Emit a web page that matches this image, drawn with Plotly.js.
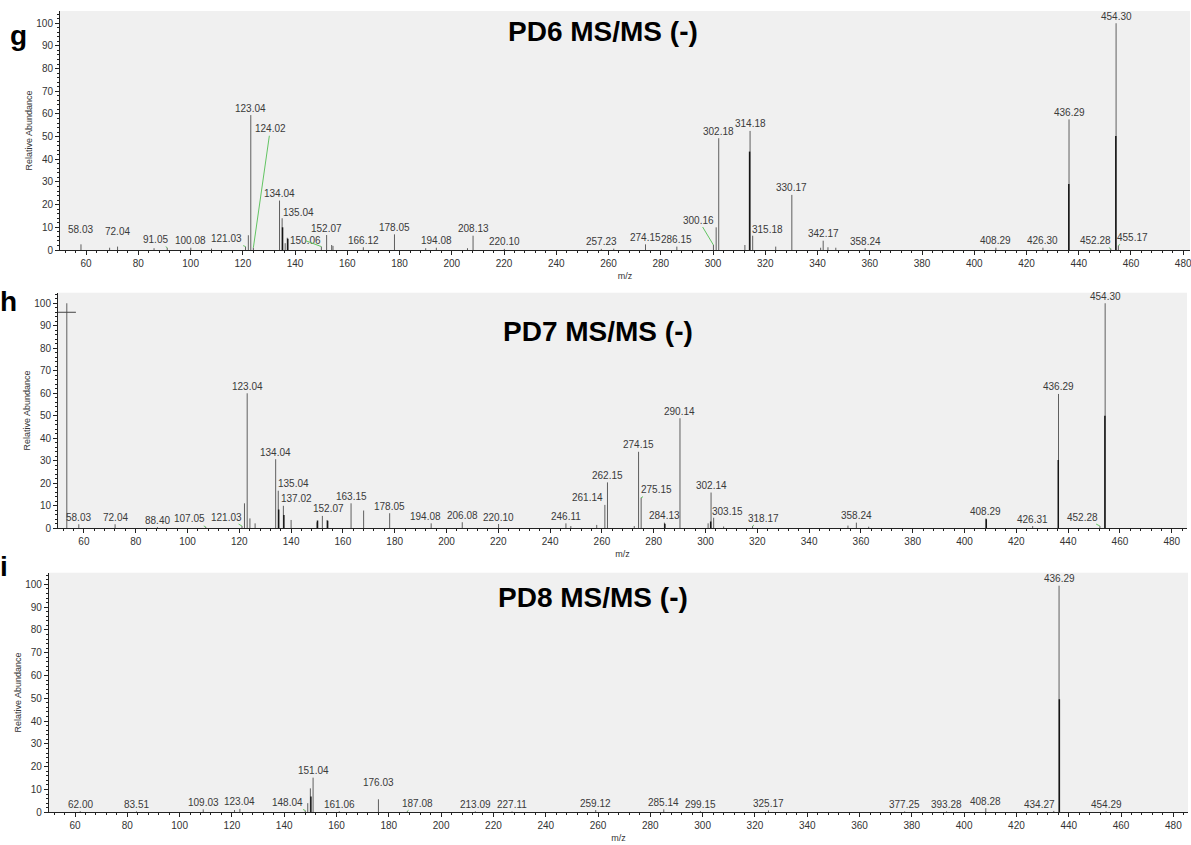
<!DOCTYPE html>
<html>
<head>
<meta charset="utf-8">
<script src="https://cdn.plot.ly/plotly-3.0.1.min.js"></script>
<style>html,body{margin:0;padding:0;background:#fff;}#chart{width:1191px;height:845px;}</style>
</head>
<body>
<div id="chart"></div>
<script>
// ---------------- DATA ----------------
// PD6 MS/MS (-)
const pd6Mz  = [58.03, 69.0, 72.04, 86.0, 91.05, 100.08, 108.0, 121.03, 122.1, 123.04, 124.02, 134.04, 135.04, 136.2, 137.0, 150.06, 152.07, 154.0, 154.5, 166.12, 178.05, 190.0, 194.08, 206.0, 208.13, 220.10, 257.23, 262.0, 274.15, 286.15, 300.16, 301.2, 302.18, 312.2, 314.18, 315.18, 324.0, 330.17, 341.2, 342.17, 344.0, 347.0, 358.24, 408.29, 426.30, 436.29, 452.28, 454.30, 455.17];
const pd6Int = [2.5, 1.0, 1.5, 0.8, 1.0, 1.0, 0.6, 1.5, 6.5, 59.5, 1.0, 21.8, 14.0, 3.0, 5.4, 1.5, 6.6, 2.2, 1.8, 1.2, 6.9, 0.8, 1.0, 0.8, 6.3, 0.5, 0.5, 0.6, 2.5, 1.5, 2.2, 10.0, 49.3, 2.2, 52.5, 6.3, 1.5, 24.3, 1.0, 4.1, 1.2, 1.0, 0.8, 1.0, 1.0, 57.6, 0.6, 100, 2.0];
const pd6DarkMz  = [135.2, 137.2, 314.0, 436.2, 454.2];
const pd6DarkInt = [10.0, 5.0, 43.4, 29.1, 50.3];
const pd6Labels = ['58.03','72.04','91.05','100.08','121.03','123.04','124.02','134.04','135.04','150.06','152.07','166.12','178.05','194.08','208.13','220.10','257.23','274.15','286.15','300.16','302.18','314.18','315.18','330.17','342.17','358.24','408.29','426.30','436.29','452.28','454.30','455.17'];

// PD7 MS/MS (-)
const pd7Mz  = [53.4, 58.03, 72.04, 88.40, 107.05, 121.03, 122.0, 123.04, 124.1, 126.1, 134.04, 135.04, 137.02, 140.0, 150.0, 152.07, 153.9, 163.15, 168.0, 178.05, 194.08, 206.08, 220.10, 246.11, 248.0, 258.0, 261.14, 262.15, 272.5, 274.15, 275.15, 284.13, 290.14, 301.0, 302.14, 303.15, 307.0, 318.17, 355.0, 358.24, 363.0, 408.29, 426.31, 436.29, 452.28, 454.30];
const pd7Int = [100, 1.8, 1.8, 0.5, 0.6, 1.0, 11.1, 60.0, 4.4, 2.2, 30.7, 16.7, 10.0, 3.7, 2.7, 5.5, 3.7, 11.1, 7.9, 6.7, 2.2, 2.7, 1.9, 2.2, 1.0, 1.5, 10.4, 20.4, 1.0, 34.0, 13.6, 2.5, 48.9, 2.2, 15.9, 4.7, 0.8, 1.0, 1.2, 2.5, 0.7, 4.4, 1.0, 59.7, 1.0, 100];
const pd7DarkMz  = [135.2, 137.2, 150.2, 154.1, 284.3, 302.0, 408.4, 436.2, 454.2];
const pd7DarkInt = [8.4, 5.9, 3.5, 3.3, 2.0, 3.0, 4.0, 30.4, 50.0];
const pd7CursorX = [53.4];
const pd7CursorY = [96];
const pd7Labels = ['58.03','72.04','88.40','107.05','121.03','123.04','134.04','135.04','137.02','152.07','163.15','178.05','194.08','206.08','220.10','246.11','261.14','262.15','274.15','275.15','284.13','290.14','302.14','303.15','318.17','358.24','408.29','426.31','436.29','452.28','454.30'];

// PD8 MS/MS (-)
const pd8Mz  = [62.00, 83.51, 109.03, 121.0, 123.04, 148.04, 149.0, 150.0, 151.04, 161.06, 176.03, 187.08, 213.09, 227.11, 259.12, 285.14, 299.15, 325.17, 377.25, 393.28, 408.28, 434.27, 436.29, 454.29];
const pd8Int = [0.5, 0.4, 1.3, 1.0, 1.5, 0.8, 4.0, 10.5, 15.2, 0.5, 5.7, 0.5, 0.4, 0.4, 1.0, 1.3, 0.5, 0.8, 0.4, 0.4, 1.8, 0.6, 99.4, 0.4];
const pd8DarkMz  = [150.2, 436.4];
const pd8DarkInt = [6.9, 49.6];
const pd8Labels = ['62.00','83.51','109.03','123.04','148.04','151.04','161.06','176.03','187.08','213.09','227.11','259.12','285.14','299.15','325.17','377.25','393.28','408.28','434.27','436.29','454.29'];

// ---------------- LABEL LAYOUT (pixel offsets) ----------------
const pd6Leaders = {'91.05':[-12,-8],'121.03':[-19,-8],'124.02':[17,-119],'135.04':[16,-6],'150.06':[-16,-6],'300.16':[-15,-25],'315.18':[15,-6],'452.28':[-15,-8],'455.17':[14,-8]};
const pd6Lift = {'58.03':8,'72.04':8};
const pd7Leaders = {'107.05':[-16,-8],'121.03':[-15,-9],'135.04':[15,-7],'137.02':[13,-7],'152.07':[6,-7],'194.08':[-6,-7],'261.14':[-17,-7],'275.15':[15,-8],'303.15':[14,-6],'318.17':[11,-8],'452.28':[-17,-9]};
const pd7Lift = {};
const pd8Leaders = {'148.04':[-18,-8],'187.08':[10,-8],'434.27':[-14,-6]};
const pd8Lift = {'176.03':10};

// ---------------- BUILD ----------------
const FONT = 'Liberation Sans, Arial, Helvetica, sans-serif';
function sticks(mz, ints) {
  const x = [], y = [];
  mz.forEach((m, i) => { x.push(m, m, null); y.push(0, ints[i], null); });
  return {x, y};
}
function nearestInt(mz, ints, v) {
  let best = 0, bd = 1e9;
  mz.forEach((m, i) => { const d = Math.abs(m - v); if (d < bd) { bd = d; best = i; } });
  return ints[best];
}
const traces = [];
const annotations = [];
function addPanel(k, mz, ints, dmz, dints, labels, leaders, lift) {
  const xa = k === 1 ? 'x' : 'x' + k, ya = k === 1 ? 'y' : 'y' + k;
  const s = sticks(mz, ints);
  traces.push({x: s.x, y: s.y, xaxis: xa, yaxis: ya, type: 'scatter', mode: 'lines',
    line: {color: '#5f5f5f', width: 1}, hoverinfo: 'skip'});
  const d = sticks(dmz, dints);
  traces.push({x: d.x, y: d.y, xaxis: xa, yaxis: ya, type: 'scatter', mode: 'lines',
    line: {color: '#151515', width: 1.5}, hoverinfo: 'skip'});
  labels.forEach(t => {
    const v = parseFloat(t);
    const h = nearestInt(mz, ints, v);
    const base = {x: v, y: h, xref: xa, yref: ya, text: t,
      font: {family: FONT, size: 10, color: '#3a3a3a'}};
    if (leaders[t]) {
      annotations.push(Object.assign(base, {showarrow: true, arrowhead: 0, arrowwidth: 1,
        arrowcolor: '#62c462', ax: leaders[t][0], ay: leaders[t][1], standoff: 0, startstandoff: 0}));
    } else {
      annotations.push(Object.assign(base, {showarrow: false, yanchor: 'middle',
        yshift: 7 + (lift[t] || 0)}));
    }
  });
}
addPanel(1, pd6Mz, pd6Int, pd6DarkMz, pd6DarkInt, pd6Labels, pd6Leaders, pd6Lift);
addPanel(2, pd7Mz, pd7Int, pd7DarkMz, pd7DarkInt, pd7Labels, pd7Leaders, pd7Lift);
addPanel(3, pd8Mz, pd8Int, pd8DarkMz, pd8DarkInt, pd8Labels, pd8Leaders, pd8Lift);
traces.push({x: pd7CursorX, y: pd7CursorY, xaxis: 'x2', yaxis: 'y2', type: 'scatter', mode: 'markers',
  marker: {symbol: 'line-ew', size: 13, line: {color: '#444', width: 1}}, hoverinfo: 'skip'});

const W = 1191, H = 845;
function xAxis(px0, px1, r1, anchor) {
  return {domain: [px0 / W, px1 / W], range: [50, r1], anchor: anchor,
    showline: true, linecolor: '#222', linewidth: 1, ticks: 'outside', ticklen: 4, tickwidth: 1,
    tickcolor: '#222', dtick: 20, tick0: 0, showgrid: false, zeroline: false,
    ticklabeloverflow: 'allow',
    minor: {dtick: 4, tick0: 0, ticks: 'outside', ticklen: 2, tickcolor: '#222', showgrid: false},
    tickfont: {family: FONT, size: 10, color: '#333'},
    title: {text: 'm/z', font: {family: FONT, size: 9, color: '#333'}, standoff: 4}};
}
function yAxis(py0, py1, r1, anchor) {
  return {domain: [1 - py0 / H, 1 - py1 / H], range: [0, r1], anchor: anchor,
    showline: true, linecolor: '#222', linewidth: 1, ticks: 'outside', ticklen: 4, tickwidth: 1,
    tickcolor: '#222', dtick: 10, tick0: 0, showgrid: false, zeroline: false,
    minor: {dtick: 2, tick0: 0, ticks: 'outside', ticklen: 2, tickcolor: '#222', showgrid: false},
    tickfont: {family: FONT, size: 10, color: '#333'},
    title: {text: 'Relative Abundance', font: {family: FONT, size: 9, color: '#333'}, standoff: 2}};
}
function paperText(text, px, py, size, bold) {
  return {xref: 'paper', yref: 'paper', x: px / W, y: 1 - py / H, text: bold ? '<b>' + text + '</b>' : text,
    showarrow: false, xanchor: 'center', yanchor: 'middle',
    font: {family: FONT, size: size, color: '#000'}};
}
annotations.push(paperText('PD6 MS/MS (-)', 603, 32, 28, true));
annotations.push(paperText('PD7 MS/MS (-)', 598, 332, 28, true));
annotations.push(paperText('PD8 MS/MS (-)', 593, 597, 28, true));
annotations.push(paperText('g', 18, 36, 28, true));
annotations.push(paperText('h', 8, 301, 28, true));
annotations.push(paperText('i', 4, 566, 28, true));

const layout = {
  width: W, height: H, margin: {l: 0, r: 0, t: 0, b: 0},
  paper_bgcolor: '#ffffff', plot_bgcolor: '#f0f0f0', showlegend: false,
  font: {family: FONT},
  xaxis: xAxis(60, 1190, 482.6, 'y'),
  yaxis: yAxis(250, 11, 105.4, 'x'),
  xaxis2: xAxis(58, 1187, 485.9, 'y2'),
  yaxis2: yAxis(528.3, 292.7, 104.7, 'x2'),
  xaxis3: xAxis(48.85, 1188, 485.6, 'y3'),
  yaxis3: yAxis(812.3, 572.7, 105.1, 'x3'),
  annotations: annotations
};
Plotly.newPlot('chart', traces, layout, {staticPlot: true, displayModeBar: false});
</script>
</body>
</html>
